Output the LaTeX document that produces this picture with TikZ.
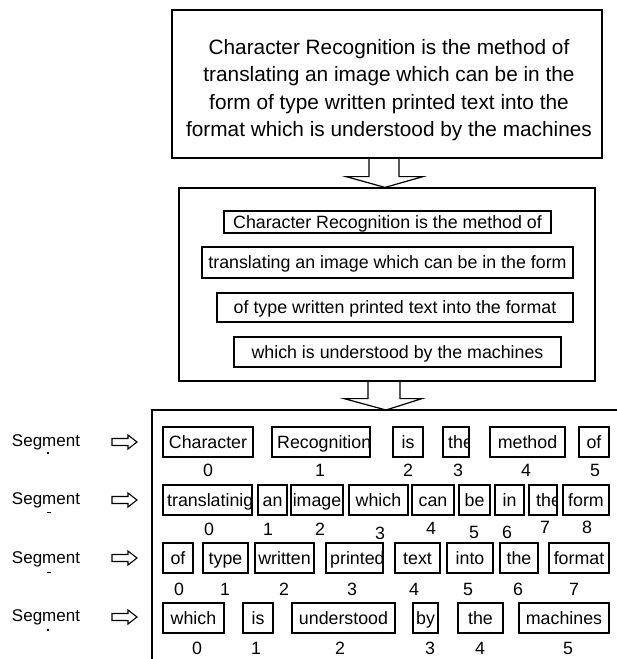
\documentclass[tikz,border=0pt]{standalone}
\usepackage{fontspec}
\setmainfont{Liberation Sans}
\usetikzlibrary{calc}

\newcommand\wfont{\fontsize{17.8}{21}\selectfont}
\newcommand\tfont{\fontsize{20.8}{27.5}\selectfont}
\newcommand\sfont{\fontsize{17}{20}\selectfont}

\tikzset{
  frame/.style={draw, line width=1.2pt, line join=miter},
  wtext/.style={inner sep=0pt, font=\wfont},
  wbox/.style={draw, line width=1.1pt, inner sep=0pt, minimum height=30pt,
    text height=12.7pt, text depth=0pt, font=\wfont},
  linebox/.style={wbox},
  idx/.style={inner sep=0pt, font=\wfont, text height=12.7pt, text depth=0pt},
  seglabel/.style={inner sep=0pt, font=\sfont, text height=12.2pt, text depth=0pt},
  rarrow/.pic={\draw[line width=1.1pt, line join=miter]
    (0,-3.5) -- (16,-3.5) -- (16,-7) -- (25,0) -- (16,7) -- (16,3.5) -- (0,3.5) -- cycle;}
}

% word box, text centred: name, left, right, top, text
\newcommand\wb[5]{\node[wbox, minimum width={#3-#2}] (#1) at ({(#2+#3)/2},{#4+15}) {#5};}
% word box, text starting at left+pad and cut off by the frame: name, left, right, top, text, pad
\newcommand\wbc[6]{%
  \begin{scope}
    \clip (#2,#4) rectangle (#3,{#4+30});
    \node[wtext, anchor=base west] (#1t) at ({#2+#6},{#4+21.35}) {#5};
  \end{scope}
  \node[wbox, minimum width={#3-#2}] (#1) at ({(#2+#3)/2},{#4+15}) {};}

\begin{document}
\begin{tikzpicture}[x=1pt, y=-1pt]
\fill[white] (0,0) rectangle (617,659);
\useasboundingbox (0,0) rectangle (617,659);

% source sentence
\node[frame, minimum width=430pt, minimum height=148pt] (top) at (387,84) {};
\node[inner sep=0pt, align=center, font=\tfont] (toptxt) at (389,90)
  {Character Recognition is the method of\\
   translating an image which can be in the\\
   form of type written printed text into the\\
   format which is understood by the machines};

% line segmentation
\node[frame, minimum width=416pt, minimum height=193pt] (mid) at (387,284.5) {};
\node[linebox, minimum width=327pt, minimum height=22pt] (m1) at (387.5,222)
  {Character Recognition is the method of};
\node[linebox, minimum width=371pt, minimum height=31pt] (m2) at (387.5,262.5)
  {translating an image which can be in the form};
\node[linebox, minimum width=356pt, minimum height=29pt] (m3) at (395,307.5)
  {of type written printed text into the format};
\node[linebox, minimum width=327pt, minimum height=30pt] (m4) at (397.5,352)
  {which is understood by the machines};

% block arrows between the stages
\coordinate (a1) at ($(top.south)+(-3,0)$);
\coordinate (a1t) at ($(mid.north)+(-2,0)$);
\draw[frame] ($(a1)+(-15,0)$) -- ($(a1)+(-15,18)$) -- ($(a1)+(-38,18)$) -- (a1t)
  -- ($(a1)+(39,18)$) -- ($(a1)+(15,18)$) -- ($(a1)+(15,0)$);

\coordinate (bot) at (152,410);
\coordinate (a2) at ($(mid.south)+(-3,0)$);
\coordinate (a2t) at (386,410);
\draw[frame] ($(a2)+(-16,0)$) -- ($(a2)+(-16,17)$) -- ($(a2)+(-40,17)$) -- (a2t)
  -- ($(a2)+(38,17)$) -- ($(a2)+(16,17)$) -- ($(a2)+(16,0)$);

% word segmentation frame
\draw[frame] (617,410) -- (bot) -- (152,659);

% segment labels and arrows
\node[seglabel] (s1) at (46,440) {Segment};
\node[seglabel] (s2) at (46,498) {Segment};
\node[seglabel] (s3) at (46,557) {Segment};
\node[seglabel] (s4) at (46,615) {Segment};
\fill (47.3,452.3) rectangle (48.8,453.8);
\fill (46.5,511.5) rectangle (51,512.8);
\fill (46.5,571.5) rectangle (51,572.8);
\fill (47.3,629.3) rectangle (48.8,630.8);
\pic at (112,442) {rarrow};
\pic at (112,500) {rarrow};
\pic at (112,558) {rarrow};
\pic at (112,617) {rarrow};

% row 1
\wb{r1a}{163}{253}{427}{Character}
\wbc{r1b}{272}{370}{427}{Recognition}{5}
\wb{r1c}{393}{423}{427}{is}
\wbc{r1d}{443}{469}{427}{the}{5}
\wb{r1e}{490}{565}{427}{method}
\wb{r1f}{579}{609}{427}{of}
\node[idx] (i10) at (208,470) {0};
\node[idx] (i11) at (320,470) {1};
\node[idx] (i12) at (408,470) {2};
\node[idx] (i13) at (458,470) {3};
\node[idx] (i14) at (526,470) {4};
\node[idx] (i15) at (595,470) {5};

% row 2
\wbc{r2a}{163}{252}{485}{translatinig}{4}
\wb{r2b}{258}{287}{485}{an}
\wb{r2c}{291}{343}{485}{image}
\wb{r2d}{349}{408}{485}{which}
\wb{r2e}{412}{454}{485}{can}
\wb{r2f}{459}{490}{485}{be}
\wb{r2g}{495}{524}{485}{in}
\wbc{r2h}{529}{557}{485}{the}{7}
\wb{r2i}{563}{609}{485}{form}
\node[idx] (i20) at (209,529) {0};
\node[idx] (i21) at (268,529) {1};
\node[idx] (i22) at (320,529) {2};
\node[idx] (i23) at (380,533) {3};
\node[idx] (i24) at (431,528) {4};
\node[idx] (i25) at (474,532) {5};
\node[idx] (i26) at (507,532) {6};
\node[idx] (i27) at (545,527) {7};
\node[idx] (i28) at (587,527) {8};

% row 3
\wb{r3a}{163}{193}{543}{of}
\wb{r3b}{203}{248}{543}{type}
\wb{r3c}{255}{314}{543}{written}
\wbc{r3d}{326}{383}{543}{printed}{4}
\wb{r3e}{395}{440}{543}{text}
\wb{r3f}{447}{493}{543}{into}
\wb{r3g}{500}{538}{543}{the}
\wb{r3h}{549}{609}{543}{format}
\node[idx] (i30) at (179,589) {0};
\node[idx] (i31) at (225,589) {1};
\node[idx] (i32) at (284,589) {2};
\node[idx] (i33) at (352,589) {3};
\node[idx] (i34) at (414,589) {4};
\node[idx] (i35) at (468,589) {5};
\node[idx] (i36) at (518,589) {6};
\node[idx] (i37) at (574,589) {7};

% row 4
\wb{r4a}{163}{224}{603}{which}
\wb{r4b}{243}{273}{603}{is}
\wb{r4c}{292}{395}{603}{understood}
\wb{r4d}{413}{438}{603}{by}
\wb{r4e}{458}{503}{603}{the}
\wb{r4f}{519}{609}{603}{machines}
\node[idx] (i40) at (197,648) {0};
\node[idx] (i41) at (256,648) {1};
\node[idx] (i42) at (340,648) {2};
\node[idx] (i43) at (430,648) {3};
\node[idx] (i44) at (480,648) {4};
\node[idx] (i45) at (568,648) {5};
\end{tikzpicture}
\end{document}
